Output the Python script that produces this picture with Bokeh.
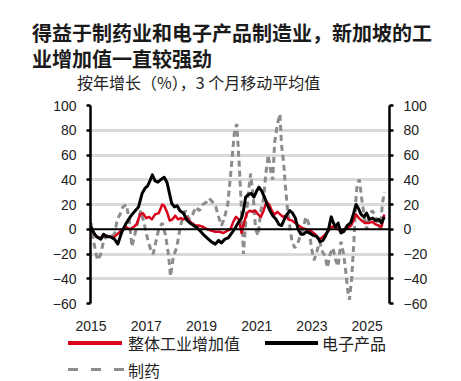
from bokeh.plotting import figure
from bokeh.layouts import column
from bokeh.models import (Div, Span, LinearAxis, FixedTicker, Range1d, ColumnDataSource)
from bokeh.embed import file_html
from bokeh.resources import INLINE

# ---------------- data (decimal year, % yoy 3mma) ----------------
elec_x = [2015.00, 2015.10, 2015.20, 2015.35, 2015.45, 2015.55, 2015.70, 2015.85, 2015.97,
          2016.10, 2016.25, 2016.45, 2016.60, 2016.72, 2016.85, 2016.95, 2017.05, 2017.15,
          2017.22, 2017.32, 2017.42, 2017.52, 2017.65, 2017.75, 2017.85, 2017.92, 2018.02,
          2018.12, 2018.22, 2018.35, 2018.45, 2018.58, 2018.72, 2018.85, 2018.98, 2019.10,
          2019.25, 2019.35, 2019.50, 2019.62, 2019.72, 2019.85, 2019.97, 2020.10, 2020.22,
          2020.35, 2020.45, 2020.52, 2020.60, 2020.70, 2020.80, 2020.90, 2021.00, 2021.08,
          2021.18, 2021.28, 2021.38, 2021.48, 2021.58, 2021.70, 2021.80, 2021.90, 2022.00,
          2022.10, 2022.20, 2022.30, 2022.40, 2022.50, 2022.60, 2022.70, 2022.80, 2022.92,
          2023.05, 2023.18, 2023.30, 2023.40, 2023.50, 2023.60, 2023.70, 2023.78, 2023.85,
          2023.95, 2024.05, 2024.15, 2024.28, 2024.40, 2024.50, 2024.60, 2024.68, 2024.78,
          2024.88, 2024.98, 2025.08, 2025.20, 2025.30, 2025.42, 2025.52, 2025.62]
elec_y = [2, -3, -6, -8, -4, -6, -6, -8, -12,
          -3, 4, 11, 15, 18, 29, 33, 35, 40,
          44, 39, 38, 40, 42, 38, 28, 21, 18,
          19, 15, 13, 8, 5, 3, 1, -2, -5,
          -8, -10, -12, -9, -11, -8, -7, -3, 1,
          6, 9, 15, 26, 28, 29, 26, 31, 34,
          31, 26, 20, 15, 11, 8, 4, 3, 8,
          12, 15, 13, 9, 0, -4, -4, -2, -3,
          -5, -6, -10, -9, -5, 0, 10, 5, 2,
          5, -3, -2, 3, 5, 12, 20, 17, 12,
          10, 13, 8, 9, 7, 8, 5, 10]

ip_x = [2015.00, 2015.10, 2015.20, 2015.35, 2015.50, 2015.65, 2015.80, 2015.95, 2016.10,
        2016.25, 2016.40, 2016.55, 2016.65, 2016.78, 2016.88, 2017.00, 2017.10, 2017.20,
        2017.32, 2017.45, 2017.58, 2017.65, 2017.75, 2017.85, 2017.95, 2018.05, 2018.15,
        2018.25, 2018.35, 2018.45, 2018.55, 2018.65, 2018.78, 2018.90, 2019.05, 2019.20,
        2019.35, 2019.50, 2019.65, 2019.80, 2019.95, 2020.05, 2020.15, 2020.25, 2020.35,
        2020.45, 2020.55, 2020.65, 2020.75, 2020.85, 2020.95, 2021.05, 2021.15, 2021.25,
        2021.35, 2021.45, 2021.55, 2021.65, 2021.75, 2021.85, 2021.95, 2022.05, 2022.15,
        2022.28, 2022.40, 2022.52, 2022.65, 2022.78, 2022.90, 2023.00, 2023.12, 2023.25,
        2023.35, 2023.45, 2023.58, 2023.70, 2023.82, 2023.95, 2024.05, 2024.18, 2024.30,
        2024.42, 2024.52, 2024.60, 2024.70, 2024.80, 2024.92, 2025.05, 2025.18, 2025.30,
        2025.42, 2025.52, 2025.62]
ip_y = [0, -3, -6, -7, -5, -6, -7, -4, -1,
        2, 0, 2, 4, 12, 13, 9, 10, 8,
        12, 13, 20, 19, 14, 7, 8, 11, 8,
        9, 8, 10, 7, 5, 3, 3, 2, 0,
        -1, -2, -2, -3, -1, 0, 6, 10, 8,
        -3, 6, 13, 15, 14, 15, 12, 10, 15,
        22, 20, 15, 12, 14, 12, 10, 11, 8,
        7, 5, 3, 1, 0, -1, -2, -4, -8,
        -7, -5, -2, 2, 2, 0, -2, 0, 1,
        3, 8, 12, 9, 7, 5, 5, 6, 4,
        3, 2, 12]

pharma_x = [2015.00, 2015.08, 2015.18, 2015.25, 2015.35, 2015.45, 2015.55, 2015.70, 2015.85,
            2015.95, 2016.05, 2016.15, 2016.28, 2016.38, 2016.48, 2016.58, 2016.68, 2016.80,
            2016.92, 2017.05, 2017.18, 2017.25, 2017.35, 2017.45, 2017.58, 2017.70, 2017.80,
            2017.88, 2017.98, 2018.10, 2018.22, 2018.32, 2018.42, 2018.55, 2018.68, 2018.80,
            2018.92, 2019.05, 2019.18, 2019.28, 2019.40, 2019.52, 2019.62, 2019.72, 2019.82,
            2019.95, 2020.03, 2020.12, 2020.20, 2020.28, 2020.36, 2020.44, 2020.52, 2020.60,
            2020.70, 2020.78, 2020.88, 2020.96, 2021.05, 2021.15, 2021.25, 2021.33, 2021.42,
            2021.50, 2021.58, 2021.65, 2021.75, 2021.84, 2021.90, 2021.97, 2022.04, 2022.12,
            2022.20, 2022.28, 2022.38, 2022.48, 2022.58, 2022.68, 2022.78, 2022.88, 2022.98,
            2023.08, 2023.18, 2023.28, 2023.38, 2023.48, 2023.56, 2023.66, 2023.76, 2023.86,
            2023.95, 2024.05, 2024.15, 2024.23, 2024.30, 2024.36, 2024.44, 2024.52, 2024.58,
            2024.64, 2024.72, 2024.80, 2024.90, 2024.98, 2025.08, 2025.18, 2025.28, 2025.38,
            2025.48, 2025.55, 2025.62]
pharma_y = [5, -8, -20, -25, -20, -10, -5, -6, -4,
            8, 12, 18, 20, 8, -14, -5, 5, 15,
            5, -8, -18, -20, -10, 0, 5, -5, -20,
            -38, -22, -15, 0, 10, 15, 8, 12, 18,
            15, 20, 22, 25, 22, 18, 10, 3, 8,
            20, 38, 60, 80, 85, 55, 20, -20, 5,
            30, 45, 25, 0, -5, 15, 25, 45, 60,
            48, 40, 70, 85, 93, 68, 55, 35, 15,
            2, -10, -15, -12, -5, 0, 10, 5, -15,
            -25, -18, -10, -18, -22, -31, -20, -15, -25,
            -30, -10, -20, -35, -50, -57, -40, -10, 20,
            37, 40, 25, 10, 0, 10, 15, 12, 5,
            0, 20, 30]

year_ticks = [2015, 2017, 2019, 2021, 2023, 2025]
y_ticks = [-60, -40, -20, 0, 20, 40, 60, 80, 100]

title_lines = ["得益于制药业和电子产品制造业，新加坡的工", "业增加值一直较强劲"]
subtitle = "按年增长（%），3 个月移动平均值"
names = ["整体工业增加值", "电子产品", "制药"]

RED = "#d9001b"
BLACK = "#000000"
GRAY = "#8c8c8c"
CJK = "Noto Sans CJK SC"
NUM = "Liberation Sans"

# ---------------- title block (HTML) ----------------
title_html = f"""
<div style="position:relative;width:461px;height:96px;font-family:'{CJK}';">
  <div style="position:absolute;left:32px;top:20px;line-height:26px;font-size:20px;
              font-weight:bold;color:#1a1a1a;white-space:nowrap;">{title_lines[0]}<br>{title_lines[1]}</div>
  <div style="position:absolute;left:77px;top:73px;line-height:18px;font-size:16px;
              color:#222222;white-space:nowrap;">{subtitle}</div>
</div>"""
head = Div(text=title_html, width=461, height=96, margin=0)

# ---------------- main figure ----------------
p = figure(width=461, height=240, output_backend="svg", toolbar_location=None, title=None,
           x_range=Range1d(2014.98, 2025.81), y_range=Range1d(-60, 100),
           min_border_left=90, min_border_right=72, min_border_top=9, min_border_bottom=33,
           margin=0)
p.outline_line_color = None
p.background_fill_color = "white"
p.border_fill_color = "white"

p.xgrid.grid_line_color = None
p.ygrid.grid_line_color = "#d9d9d9"
p.ygrid.grid_line_width = 3
p.ygrid.ticker = FixedTicker(ticks=[t for t in y_ticks if t != 0])

xa = p.xaxis[0]
xa.ticker = FixedTicker(ticks=year_ticks)
xa.axis_line_color = None
xa.major_tick_line_color = None
xa.minor_tick_line_color = None
xa.major_tick_out = 0
xa.major_tick_in = 0
xa.major_label_standoff = 17
xa.major_label_text_font = NUM
xa.major_label_text_font_size = "14px"
xa.major_label_text_color = "#222222"


def style_y(ax):
    ax.ticker = FixedTicker(ticks=y_ticks)
    ax.axis_line_color = "black"
    ax.axis_line_width = 2.5
    ax.major_tick_line_color = "black"
    ax.major_tick_line_width = 2.5
    ax.major_tick_out = 4
    ax.major_tick_in = 0
    ax.minor_tick_line_color = None
    ax.major_label_standoff = 10
    ax.major_label_text_font = NUM
    ax.major_label_text_font_size = "14px"
    ax.major_label_text_color = "#222222"


style_y(p.yaxis[0])
ra = LinearAxis()
style_y(ra)
p.add_layout(ra, "right")

p.add_layout(Span(location=0, dimension="width", line_color="black", line_width=2))

src_e = ColumnDataSource(dict(x=elec_x, y=elec_y))
src_i = ColumnDataSource(dict(x=ip_x, y=ip_y))
src_p = ColumnDataSource(dict(x=pharma_x, y=pharma_y))

p.line("x", "y", source=src_p, line_color=GRAY, line_width=3, line_dash="6 4")
p.line("x", "y", source=src_i, line_color=RED, line_width=2.5, line_join="round")
p.line("x", "y", source=src_e, line_color=BLACK, line_width=3, line_join="round")

# ---------------- legend strip (HTML) ----------------
legend_html = f"""
<div style="position:relative;width:461px;height:45px;font-family:'{CJK}';font-size:16px;
            color:#222222;">
  <div style="position:absolute;left:68px;top:5px;width:54px;height:4px;background:{RED};"></div>
  <div style="position:absolute;left:128px;top:-1px;line-height:16px;white-space:nowrap;">{names[0]}</div>
  <div style="position:absolute;left:265px;top:5px;width:53px;height:4px;background:{BLACK};"></div>
  <div style="position:absolute;left:322px;top:-1px;line-height:16px;white-space:nowrap;">{names[1]}</div>
  <div style="position:absolute;left:68px;top:32px;width:57px;height:3px;
              background:repeating-linear-gradient(to right,{GRAY} 0px,{GRAY} 10px,transparent 10px,transparent 23px);"></div>
  <div style="position:absolute;left:128px;top:26px;line-height:16px;white-space:nowrap;">{names[2]}</div>
</div>"""
foot = Div(text=legend_html, width=461, height=45, margin=0)

layout = column(head, p, foot, spacing=0)
open("out.html", "w").write(file_html(layout, INLINE))
